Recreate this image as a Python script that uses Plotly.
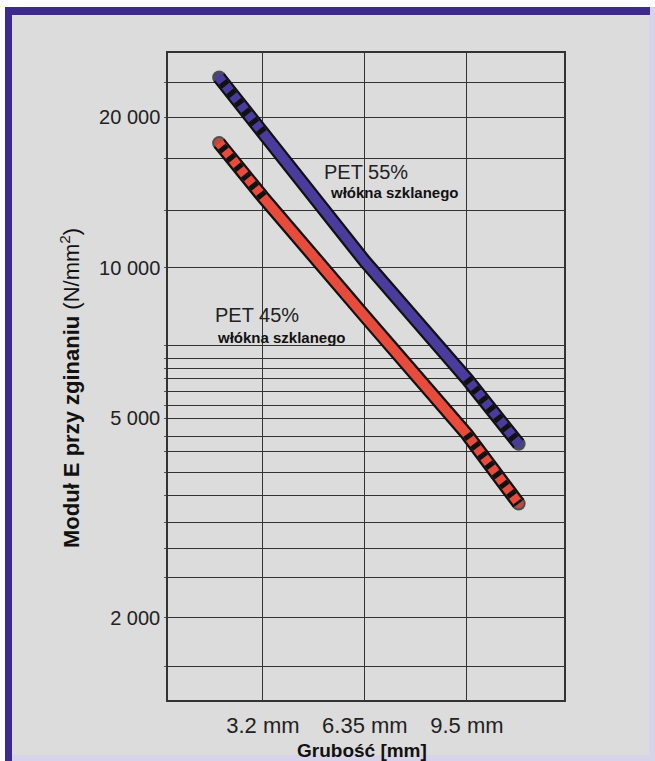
import plotly.graph_objects as go

# ---------------- data ----------------
thickness_ticks = [3.2, 6.35, 9.5]
thickness_labels = ["3.2 mm", "6.35 mm", "9.5 mm"]

x_points = [1.85, 3.2, 6.35, 9.5, 11.1]
pet55 = [24000, 18600, 10300, 6000, 4450]
pet45 = [17750, 13850, 8000, 4650, 3380]

y_grid = [23500, 20000, 16500, 13000, 10000, 7000, 6600, 6300, 6000, 5650,
          5300, 5000, 4600, 4300, 3900, 3500, 3100, 2750, 2400, 2000, 1600]
y_labelled = {20000: "20 000", 10000: "10 000", 5000: "5 000", 2000: "2 000"}

series = [
    ("PET 55%", pet55, "#4a3c9c"),
    ("PET 45%", pet45, "#e64b3c"),
]

# ---------------- figure ----------------
W, H = 655, 761
L, R, T, B = 168, 564, 53, 700
FONT = "Liberation Sans, Arial, Helvetica, sans-serif"


def px(xp):
    return (xp - L) / (R - L)


def py(yp):
    return (B - yp) / (B - T)


fig = go.Figure()

n = len(x_points)
end_sizes_outer = [14] + [0] * (n - 2) + [14]
end_sizes_inner = [10] + [0] * (n - 2) + [10]

for name, vals, col in series:
    # black outline
    fig.add_trace(go.Scatter(
        x=x_points, y=vals, mode="lines+markers",
        line=dict(color="#111111", width=14),
        marker=dict(size=end_sizes_outer, color="#111111", line=dict(width=0)),
        hoverinfo="skip", showlegend=False))
    # coloured core
    fig.add_trace(go.Scatter(
        x=x_points, y=vals, mode="lines+markers",
        line=dict(color=col, width=9.5),
        marker=dict(size=end_sizes_inner, color=col, line=dict(width=0)),
        name=name, showlegend=False))
    # striped (extrapolated) parts outside measured thickness range
    fig.add_trace(go.Scatter(
        x=[x_points[1], x_points[0]], y=[vals[1], vals[0]], mode="lines",
        line=dict(color="#111111", width=9.5, dash="5px,7px"),
        hoverinfo="skip", showlegend=False))
    fig.add_trace(go.Scatter(
        x=[x_points[3], x_points[4]], y=[vals[3], vals[4]], mode="lines",
        line=dict(color="#111111", width=9.5, dash="5px,7px"),
        hoverinfo="skip", showlegend=False))

fig.update_xaxes(
    range=[0.27, 12.5], tickvals=thickness_ticks, ticktext=thickness_labels,
    showgrid=True, gridcolor="#333333", gridwidth=1.3,
    showline=True, linecolor="#333333", linewidth=1.5, mirror=True,
    ticks="outside", ticklen=5, tickcolor="rgba(0,0,0,0)",
    tickfont=dict(family=FONT, size=22, color="#222222"),
    zeroline=False, fixedrange=True)

fig.update_yaxes(
    type="log", range=[3.1364, 4.4292],
    tickvals=y_grid, ticktext=[y_labelled.get(v, "") for v in y_grid],
    showgrid=True, gridcolor="#333333", gridwidth=1.3,
    showline=True, linecolor="#333333", linewidth=1.5, mirror=True,
    ticks="outside", ticklen=2, tickcolor="#555555",
    tickfont=dict(family=FONT, size=20, color="#222222"),
    zeroline=False, fixedrange=True)

shapes = [
    # grey panel
    dict(type="rect", xref="paper", yref="paper", layer="below",
         x0=px(5), x1=px(655), y0=py(761), y1=py(7),
         fillcolor="#dcdcdc", line=dict(width=0)),
    # light bevel right / bottom
    dict(type="rect", xref="paper", yref="paper", layer="below",
         x0=px(649), x1=px(655), y0=py(761), y1=py(7),
         fillcolor="#d6d3ea", line=dict(width=0)),
    dict(type="rect", xref="paper", yref="paper", layer="below",
         x0=px(5), x1=px(655), y0=py(761), y1=py(755),
         fillcolor="#d6d3ea", line=dict(width=0)),
    # dark purple frame top / left
    dict(type="rect", xref="paper", yref="paper", layer="below",
         x0=px(5), x1=px(650), y0=py(15), y1=py(7),
         fillcolor="#3c2a8c", line=dict(width=0)),
    dict(type="rect", xref="paper", yref="paper", layer="below",
         x0=px(5), x1=px(12), y0=py(761), y1=py(7),
         fillcolor="#3c2a8c", line=dict(width=0)),
]

annotations = [
    dict(text="PET 55%", x=px(322), y=py(172), xanchor="left", yanchor="middle",
         font=dict(family=FONT, size=20, color="#222222")),
    dict(text="<b>włókna szklanego</b>", x=px(328), y=py(192), xanchor="left",
         yanchor="middle", font=dict(family=FONT, size=15, color="#111111")),
    dict(text="PET 45%", x=px(213), y=py(315), xanchor="left", yanchor="middle",
         font=dict(family=FONT, size=20, color="#222222")),
    dict(text="<b>włókna szklanego</b>", x=px(215), y=py(337), xanchor="left",
         yanchor="middle", font=dict(family=FONT, size=15, color="#111111")),
    dict(text="<b>Grubość [mm]</b>", x=px(362), y=py(750), xanchor="center",
         yanchor="middle", font=dict(family=FONT, size=19, color="#111111")),
    dict(text="<b>Moduł E przy zginaniu</b> (N/mm<sup>2</sup>)", textangle=-90,
         x=px(70), y=py(388), xanchor="center", yanchor="middle",
         font=dict(family=FONT, size=22, color="#111111")),
]
for a in annotations:
    a.update(xref="paper", yref="paper", showarrow=False)

fig.update_layout(
    width=W, height=H,
    margin=dict(l=L, r=W - R, t=T, b=H - B, autoexpand=False),
    paper_bgcolor="#ffffff", plot_bgcolor="rgba(0,0,0,0)",
    shapes=shapes, annotations=annotations,
    showlegend=False, hovermode=False,
)

fig.write_html(
    "out.html",
    config={"displayModeBar": False},
    post_script="document.body.style.margin='0';document.body.style.padding='0';"
                "document.body.style.overflow='hidden';",
)
